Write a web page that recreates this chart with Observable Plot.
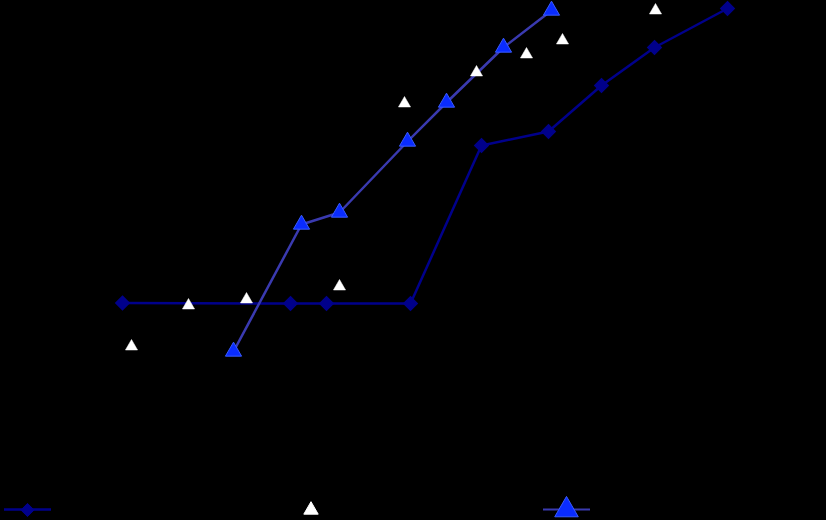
<!DOCTYPE html>
<html>
<head>
<meta charset="utf-8">
<script src="https://cdn.jsdelivr.net/npm/d3@7"></script>
<script src="https://cdn.jsdelivr.net/npm/@observablehq/plot@0.6"></script>
<style>
  html, body { margin: 0; padding: 0; background: #000; }
  #chart svg { display: block; background: #000; }
  #legend { position: relative; height: 30px; width: 826px; }
  #legend svg { position: absolute; top: 0; }
</style>
</head>
<body>
<div id="chart"></div>
<div id="legend"></div>
<script>
// Series A (navy line with diamonds)
const seriesAx = [12.2, 29.0, 32.6, 41.0, 48.1, 54.8, 60.1, 65.4, 72.7];
const seriesAy = [17.75, 17.7, 17.7, 17.7, 33.5, 34.9, 39.5, 43.3, 47.2];
// Series B (blue line with triangles)
const seriesBx = [23.3, 30.1, 33.9, 40.7, 44.6, 50.3, 55.1];
const seriesBy = [12.9, 25.6, 26.8, 33.9, 37.8, 43.3, 47.0];
// Series C (white triangles, points only)
const seriesCx = [13.1, 18.8, 24.6, 33.9, 40.4, 47.6, 52.6, 56.2, 65.5];
const seriesCy = [13.4, 17.5, 18.1, 19.4, 37.7, 40.8, 42.6, 44.0, 47.0];

const A = seriesAx.map((x, i) => ({x, y: seriesAy[i]}));
const B = seriesBx.map((x, i) => ({x, y: seriesBy[i]}));
const C = seriesCx.map((x, i) => ({x, y: seriesCy[i]}));

const chart = Plot.plot({
  width: 826,
  height: 490,
  marginTop: 0, marginRight: 0, marginBottom: 10, marginLeft: 0,
  style: {background: "#000"},
  x: {domain: [0, 82.6], axis: null},
  y: {domain: [0, 48], range: [480, 0], axis: null},
  marks: [
    Plot.line(A, {x: "x", y: "y", stroke: "#00008b", strokeWidth: 2.5}),
    Plot.dot(A, {x: "x", y: "y", symbol: "diamond2", r: 6, fill: "#00008b", stroke: "#00008b"}),
    Plot.line(B, {x: "x", y: "y", stroke: "#3a3ab0", strokeWidth: 2.5}),
    Plot.dot(B, {x: "x", y: "y", symbol: "triangle", r: 6, fill: "#0a2cff", stroke: "#3a5cff", strokeWidth: 1}),
    Plot.dot(C, {x: "x", y: "y", symbol: "triangle", r: 4.5, fill: "#ffffff", stroke: "#ffffff", strokeWidth: 0.5})
  ]
});
document.getElementById("chart").appendChild(chart);

// Legend swatches
const legend = d3.select("#legend");
function swatch(left, w, line, lineColor, lineW, sym, size, fill, stroke) {
  const s = legend.append("svg").attr("width", w).attr("height", 30).style("left", left + "px");
  if (line) s.append("line").attr("x1", 0).attr("x2", w).attr("y1", 19.5).attr("y2", 19.5)
    .attr("stroke", lineColor).attr("stroke-width", lineW);
  s.append("path").attr("d", d3.symbol(sym, size)()).attr("transform", `translate(${w/2},20)`)
    .attr("fill", fill).attr("stroke", stroke);
}
swatch(4, 47, true, "#00008b", 2.5, d3.symbolDiamond2, 110, "#00008b", "#00008b");
swatch(300, 22, false, null, 0, d3.symbolTriangle, 90, "#ffffff", "#ffffff");
swatch(543, 47, true, "#3a3ab0", 2, d3.symbolTriangle, 240, "#0a2cff", "#3a5cff");
</script>
</body>
</html>
